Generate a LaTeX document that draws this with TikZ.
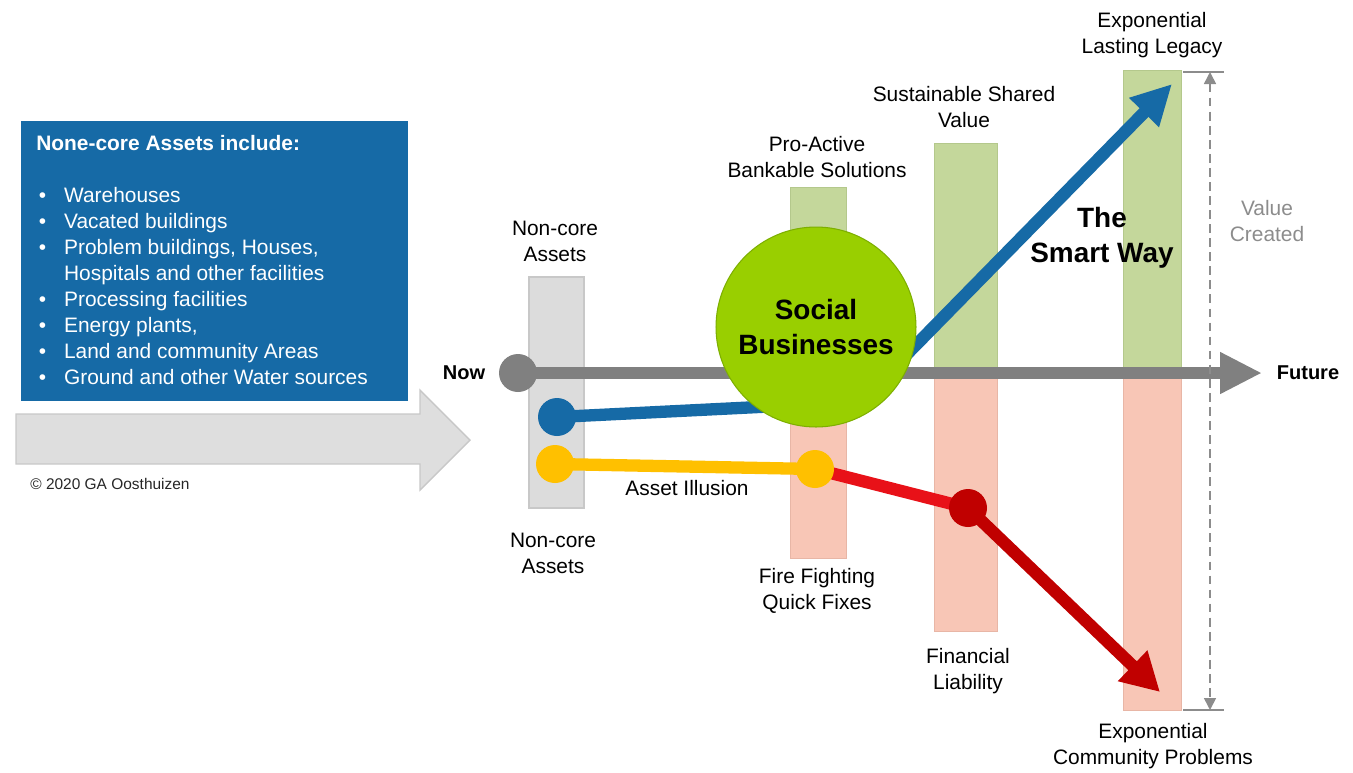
\documentclass[tikz,border=0pt]{standalone}
\usepackage{fontspec}
\setmainfont{Liberation Sans}
\usetikzlibrary{arrows.meta}
\definecolor{boxblue}{RGB}{22,106,166}
\definecolor{axisgray}{RGB}{128,128,128}
\definecolor{sunyellow}{RGB}{255,192,0}
\definecolor{brightred}{RGB}{232,17,24}
\definecolor{darkred}{RGB}{192,0,0}
\definecolor{socgreen}{RGB}{153,207,0}
\definecolor{socgreenedge}{RGB}{125,175,0}
\definecolor{bargreen}{RGB}{196,215,155}
\definecolor{bargreenedge}{RGB}{180,200,140}
\definecolor{barpink}{RGB}{248,198,182}
\definecolor{barpinkedge}{RGB}{232,182,166}
\definecolor{bargray}{RGB}{220,220,220}
\definecolor{bargrayedge}{RGB}{200,200,200}
\definecolor{arrowfill}{RGB}{222,222,222}
\definecolor{arrowedge}{RGB}{200,200,200}
\definecolor{valgray}{RGB}{140,140,140}
\newcommand\myfontA{\fontsize{11.9pt}{14.74pt}\selectfont}
\newcommand\myfontBig{\fontsize{15.9pt}{19.8pt}\selectfont\bfseries}
\newcommand\myfontNow{\fontsize{11.4pt}{14pt}\selectfont\bfseries}
\newcommand\myfontSmall{\fontsize{8.8pt}{11pt}\selectfont}
\newcommand\mybul{\makebox[15.8pt][l]{\hspace{1.5pt}\textbullet}}
\pgfdeclarelayer{back}
\pgfdeclarelayer{mid}
\pgfsetlayers{back,mid,main}
\begin{document}
\begin{tikzpicture}[x=0.02cm,y=-0.02cm,
  lbl/.style={align=center, inner sep=0pt, font=\myfontA},
  dotnode/.style={circle, minimum size=0.76cm, inner sep=0pt},
  thickline/.style={line width=7pt},
  greenbar/.style={fill=bargreen, draw=bargreenedge, line width=0.5pt},
  pinkbar/.style={fill=barpink, draw=barpinkedge, line width=0.5pt},
  graybar/.style={fill=bargray, draw=bargrayedge, line width=0.6pt},
  valline/.style={draw=valgray, line width=0.9pt}
]
\useasboundingbox (0,0) rectangle (1353,772);

% ---- left info box and big arrow
\fill[boxblue] (21,121) rectangle (408,401);
\node[anchor=west, align=left, inner sep=0pt, text=white, font=\myfontA] (info) at (36,260)
 {\textbf{None-core Assets include:}\\
  \mbox{}\\
  \mybul Warehouses\\
  \mybul Vacated buildings\\
  \mybul Problem buildings, Houses,\\
  \hphantom{\mybul}Hospitals and other facilities\\
  \mybul Processing facilities\\
  \mybul Energy plants,\\
  \mybul Land and community Areas\\
  \mybul Ground and other Water sources};
\draw[fill=arrowfill, draw=arrowedge, line width=0.8pt]
  (16,414) -- (420,414) -- (420,390) -- (470,440) -- (420,490) -- (420,464) -- (16,464) -- cycle;
\node[anchor=west, inner sep=0pt, font=\myfontSmall, text=black!85] (copy) at (30,484) {\textcopyright\ 2020 GA Oosthuizen};

% ---- bars
\begin{pgfonlayer}{back}
\path[graybar] (529,277) rectangle (584,508);
\path[greenbar] (790,187) rectangle (846,373);
\path[pinkbar] (790,373) rectangle (846,558);
\path[greenbar] (934,143) rectangle (997,373);
\path[pinkbar] (934,373) rectangle (997,631);
\path[greenbar] (1123,70) rectangle (1181,373);
\path[pinkbar] (1123,373) rectangle (1181,710);
\end{pgfonlayer}

% ---- dots and circle
\node[dotnode, fill=axisgray] (nowdot) at (518,373) {};
\node[dotnode, fill=boxblue] (bdot) at (557,417) {};
\node[dotnode, fill=sunyellow] (ydot) at (555,464) {};
\node[dotnode, fill=sunyellow] (ydot2) at (815,469) {};
\node[dotnode, fill=darkred] (rdot) at (968,508) {};
\node[circle, minimum size=4cm, inner sep=0pt, fill=socgreen, draw=socgreenedge, line width=0.6pt,
      align=center, font=\myfontBig] (sb) at (816,327) {Social\\Businesses};

\coordinate (futtip) at (1262,373);
\coordinate (bcorner) at (860,402);
\coordinate (smarttip) at (1172,84);
\coordinate (redtip) at (1160,692);

% ---- connectors (under the circles)
\begin{pgfonlayer}{mid}
\draw[thickline, draw=axisgray, -{Triangle[length=0.84cm,width=0.78cm]}] (nowdot.center) -- (futtip);
\draw[thickline, draw=boxblue, line join=round, -{Triangle[length=0.8cm,width=0.78cm]}]
  (bdot.center) -- (bcorner) -- (smarttip);
\draw[thickline, draw=sunyellow] (ydot.center) -- (ydot2.center);
\draw[thickline, draw=brightred] (ydot2.center) -- (rdot.center);
\draw[thickline, draw=darkred, -{Triangle[length=0.76cm,width=0.8cm]}] (rdot.center) -- (redtip);
\end{pgfonlayer}

% ---- value created scale
\coordinate (vtop) at (1210,72);
\coordinate (vbot) at (1210,710);
\coordinate (ttl) at (1183,72);
\coordinate (ttr) at (1224,72);
\coordinate (tbl) at (1183,710);
\coordinate (tbr) at (1224,710);
\draw[valline, dash pattern=on 5pt off 3pt, {Triangle[length=0.24cm,width=0.24cm]}-{Triangle[length=0.24cm,width=0.24cm]}] (vtop) -- (vbot);
\draw[valline, line width=1.1pt] (ttl) -- (ttr);
\draw[valline, line width=1.1pt] (tbl) -- (tbr);

% ---- labels
\node[lbl] (nca1) at (555,241) {Non-core\\Assets};
\node[lbl] (nca2) at (553,553) {Non-core\\Assets};
\node[lbl] (illus) at (687,488) {Asset Illusion};
\node[lbl] (proact) at (817,157) {Pro-Active\\Bankable Solutions};
\node[lbl] (fire) at (817,591) {Fire Fighting\\Quick Fixes};
\node[lbl] (sust) at (964,107) {Sustainable Shared\\Value};
\node[lbl] (fin) at (968,671) {Financial\\Liability};
\node[lbl] (legacy) at (1152,35) {Exponential\\Lasting Legacy};
\node[lbl] (commprob) at (1153,746) {Exponential\\Community Problems};
\node[lbl, text=valgray] (valcr) at (1267,221) {Value\\Created};
\node[align=center, inner sep=0pt, font=\myfontBig] (smart) at (1102,238) {The\\Smart Way};
\node[inner sep=0pt, font=\myfontNow] (nowlbl) at (464,373) {Now};
\node[inner sep=0pt, font=\myfontNow] (futlbl) at (1308,373) {Future};
\end{tikzpicture}
\end{document}
